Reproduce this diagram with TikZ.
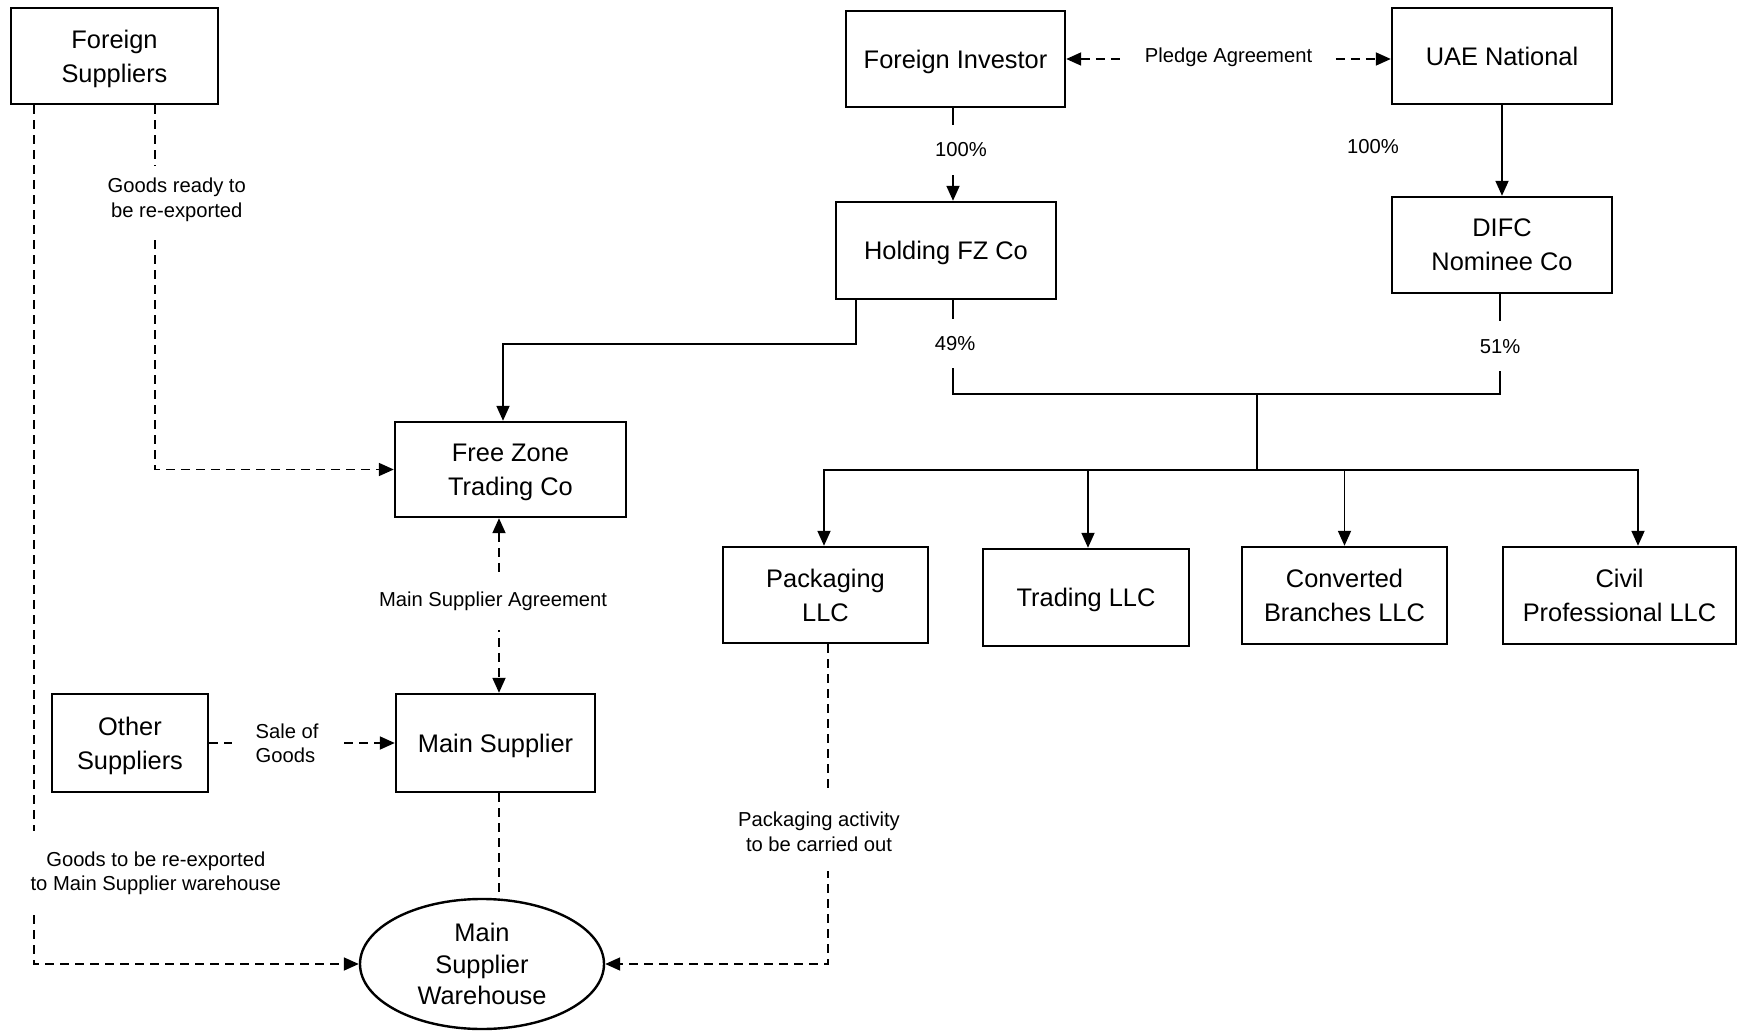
\documentclass[tikz,border=0pt]{standalone}
\usepackage{fontspec}
\setmainfont{Liberation Sans}
\usetikzlibrary{arrows.meta,calc,shapes.geometric}
\begin{document}
\begin{tikzpicture}[x=0.5pt,y=-0.5pt,
  >={Triangle[length=7.5pt,width=6.5pt]},
  box/.style={draw,line width=1.2pt,rectangle,align=center,inner sep=0pt,text depth=0pt,
    font=\fontsize{12.7}{17}\selectfont},
  oval/.style={draw,line width=1.2pt,ellipse,align=center,inner sep=0pt,
    font=\fontsize{12.7}{15.8}\selectfont},
  lbl/.style={fill=white,align=center,inner sep=0pt,
    font=\fontsize{10.1}{12.2}\selectfont},
  conn/.style={line width=0.9pt},
  dsh/.style={conn,dash pattern=on 4.5pt off 3pt}]
\useasboundingbox (0,0) rectangle (1741,1032);

% boxes
\node[box,minimum width=103.5pt,minimum height=48pt] (fs) at (114.5,56) {Foreign\\Suppliers};
\node[box,minimum width=109.5pt,minimum height=48pt] (fi) at (955.5,59) {Foreign Investor};
\node[box,minimum width=110pt,minimum height=48pt] (uae) at (1502,56) {UAE National};
\node[box,minimum width=110pt,minimum height=48.5pt] (hfz) at (946,250.5) {Holding FZ Co};
\node[box,minimum width=110pt,minimum height=48pt] (difc) at (1502,245) {DIFC\\Nominee Co};
\node[box,minimum width=115.5pt,minimum height=47.5pt] (fz) at (510.5,469.5) {Free Zone\\Trading Co};
\node[box,minimum width=102.5pt,minimum height=48pt] (pk) at (825.5,595) {Packaging\\LLC};
\node[box,minimum width=103pt,minimum height=48.5pt] (tr) at (1086,597.5) {Trading LLC};
\node[box,minimum width=102.5pt,minimum height=48.5pt] (cb) at (1344.5,595.5) {Converted\\Branches LLC};
\node[box,minimum width=116.5pt,minimum height=48.5pt] (cv) at (1619.5,595.5) {Civil\\Professional LLC};
\node[box,minimum width=78pt,minimum height=49pt] (os) at (130,743) {Other\\Suppliers};
\node[box,minimum width=99.5pt,minimum height=49pt] (ms) at (495.5,743) {Main Supplier};
\node[oval,minimum width=122pt,minimum height=65pt] (wh) at (482,964) {Main\\Supplier\\Warehouse};

% pledge agreement
\draw[dsh,<->] (fi.east) -- node[lbl,yshift=1pt,minimum width=106pt,minimum height=10pt]{Pledge Agreement} (fi.east -| uae.west);

% ownership
\draw[conn,->] ($(fi.south)+(-2.5,0)$) -- node[lbl,pos=0.45,xshift=4pt,minimum height=25pt]{100\%} ($(hfz.north)+(7,0)$);
\draw[conn,->] (uae.south) -- (difc.north);
\node[lbl,fill=none] (p100) at (1373,147) {100\%};

\draw[conn] ($(hfz.south)+(7,0)$) -- node[lbl,pos=0.46,xshift=1pt,minimum height=24.5pt]{49\%} ($(hfz.south)+(7,94)$)
  -- ($(difc.south)+(-2,100)$) -- node[lbl,pos=0.48,minimum height=25pt]{51\%} ($(difc.south)+(-2,0)$);
\coordinate (bus) at (1257,393);
\coordinate (bar) at (1257,470);
\draw[conn] (bus) -- (bar);
\draw[conn,->] (bar) -| ($(pk.north)+(-1.5,0)$);
\draw[conn,->] (bar) -| ($(tr.north)+(2,0)$);
\draw[conn,->] (bar) -| (cb.north);
\draw[conn,->] (bar) -| ($(cv.north)+(18.5,0)$);

\draw[conn,->] ($(hfz.south west)+(21,0)$) -- ++(0,44) -| ($(fz.north)+(-7.5,0)$);

% goods flows
\draw[dsh,->] ($(fs.south west)+(145.5,0)$) |- node[lbl,pos=0.13,xshift=10.75pt,minimum height=34pt]{Goods ready to\\be re-exported} (fz.west);
\draw[dsh,->] ($(fs.south west)+(24,0)$) |- node[lbl,pos=0.447,xshift=61pt,inner xsep=4pt,minimum height=41.5pt]{Goods to be re-exported\\to Main Supplier warehouse} (wh.west);
\draw[dsh,<->] ($(fz.south)+(-11.5,0)$) -- node[lbl,pos=0.475,xshift=-3pt,minimum height=28.5pt]{Main Supplier Agreement} ($(ms.north)+(3.5,0)$);
\draw[dsh,->] (os.east) -- node[lbl,pos=0.42,align=left,minimum width=55pt,minimum height=30pt]{Sale of\\Goods} (ms.west);
\path ($(ms.south)+(3.5,0)$) coordinate (msb);
\draw[dsh] (msb) -- (msb |- wh.north);
\draw[dsh,->] ($(pk.south)+(2.5,0)$) |- node[lbl,pos=0.293,xshift=-4.5pt,minimum height=39pt]{Packaging activity\\to be carried out} (wh.east);
\end{tikzpicture}
\end{document}
